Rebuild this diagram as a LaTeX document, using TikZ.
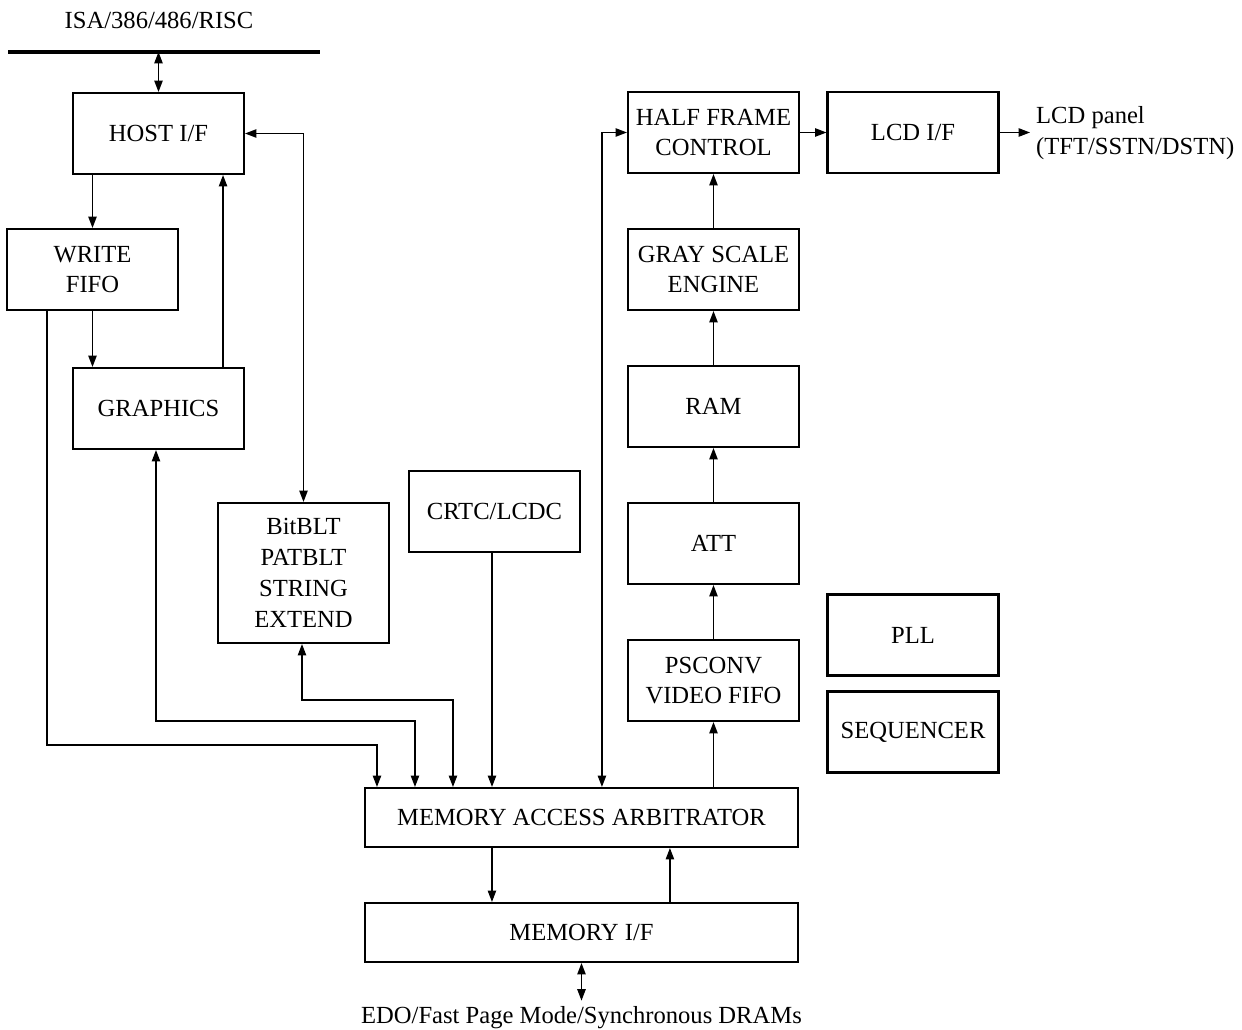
\documentclass[tikz,border=0pt]{standalone}
\usepackage{fontspec}
\setmainfont{Liberation Serif}
\usetikzlibrary{arrows.meta,calc,positioning}

\begin{document}
\begin{tikzpicture}[x=0.02cm,y=-0.02cm,
    every node/.style={font=\fontsize{14}{17.5}\selectfont},
    blk/.style={draw,line width=1.2pt,align=center,minimum width=3.42cm,minimum height=1.62cm,inner sep=1pt},
    wide/.style={blk,minimum width=8.66cm,minimum height=1.18cm},
    arr/.style={line width=0.7pt,-{Triangle[length=6.5pt,width=4.8pt]}},
    dbl/.style={line width=0.7pt,{Triangle[length=6.5pt,width=4.8pt]}-{Triangle[length=6.5pt,width=4.8pt]}},
    bus/.style={line width=2.3pt}]
    \useasboundingbox (0,0) rectangle (1242,1030);
    % host side
    \node at (159,20) (isa) {ISA/386/486/RISC};
    \coordinate (busL) at (8,52);
    \coordinate (busR) at (320,52);
    \draw[bus] (busL) -- (busR);
    \node[blk] (host) at (158.5,133.5) {HOST I/F};
    \node[blk] (wfifo) at (92.5,269.5) {WRITE\\FIFO};
    \node[blk] (gfx) at (158.5,408.5) {GRAPHICS};
    \node[blk,minimum height=2.8cm] (bitblt) at (303.5,573) {BitBLT\\PATBLT\\STRING\\EXTEND};
    \node[blk] (crtc) at (494.5,511.5) {CRTC/LCDC};
    % display pipe
    \node[blk] (hfc) at (713.5,132.5) {HALF FRAME\\CONTROL};
    \node[blk] (lcd) at (913,132.5) {LCD I/F};
    \node[anchor=west,align=left] (panel) at (1030,133) {LCD panel\\(TFT/SSTN/DSTN)};
    \node[blk] (gse) at (713.5,269.5) {GRAY SCALE\\ENGINE};
    \node[blk] (ram) at (713.5,406.5) {RAM};
    \node[blk] (att) at (713.5,543.5) {ATT};
    \node[blk] (psconv) at (713.5,680.5) {PSCONV\\VIDEO FIFO};
    \node[blk] (pll) at (913,635) {PLL};
    \node[blk] (seq) at (913,732) {SEQUENCER};
    % memory
    \node[wide] (arb) at (581.5,817.5) {MEMORY ACCESS ARBITRATOR};
    \node[wide] (mif) at (581.5,932.5) {MEMORY I/F};
    \node (edo) at (581.5,1018) {EDO/Fast Page Mode/Synchronous DRAMs};

    \draw[dbl] (host.north |- busL) -- (host.north);
    \draw[arr] (host.south -| wfifo) -- (wfifo.north);
    \draw[arr] (wfifo.south) -- (wfifo.south |- gfx.north);
    \draw[arr] ([xshift=-0.44cm]gfx.north east) -- ([xshift=-0.44cm]host.south east);
    \draw[dbl] (host.east) -| (bitblt.north);
    \draw[arr] ([xshift=0.82cm]wfifo.south west) -- ++(0,434) -| ([xshift=0.26cm]arb.north west);
    \draw[dbl] ([xshift=-0.05cm]gfx.south) -- ++(0,271) -| ([xshift=1.02cm]arb.north west);
    \draw[dbl] ([xshift=-0.03cm]bitblt.south) -- ++(0,56) -| ([xshift=1.78cm]arb.north west);
    \draw[arr] ([xshift=-0.05cm]crtc.south) -- ([xshift=-0.05cm]crtc.south |- arb.north);
    \draw[dbl] ([xshift=4.76cm]arb.north west) |- (hfc.west);
    \draw[arr] (arb.north -| psconv) -- (psconv.south);
    \foreach \a/\b in {psconv/att,att/ram,ram/gse,gse/hfc}{
        \draw[arr] (\a.north) -- (\b.south);
    }
    \draw[arr] (hfc.east) -- (lcd.west);
    \draw[arr] (lcd.east) -- (lcd.east -| panel.west);
    \draw[arr] ([xshift=2.56cm]arb.south west) -- ([xshift=2.56cm]mif.north west);
    \draw[arr] ([xshift=6.12cm]mif.north west) -- ([xshift=6.12cm]arb.south west);
    \draw[dbl] (mif.south) -- (edo.north);
\end{tikzpicture}
\end{document}
